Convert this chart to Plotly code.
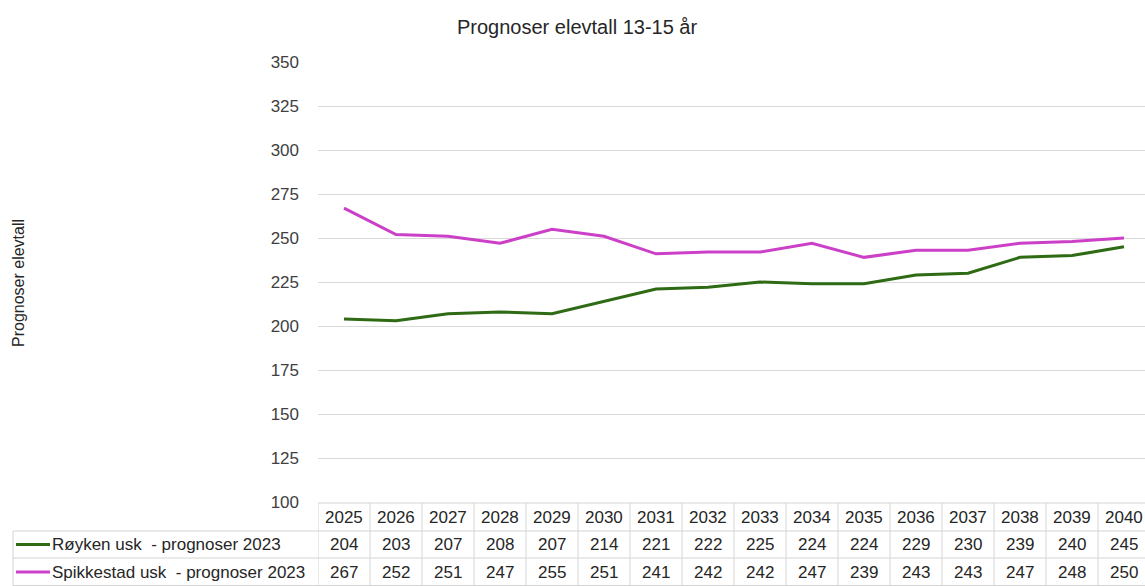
import plotly.graph_objects as go

# Prognosis data: pupils aged 13-15
years = [2025, 2026, 2027, 2028, 2029, 2030, 2031, 2032, 2033, 2034,
         2035, 2036, 2037, 2038, 2039, 2040]
royken = [204, 203, 207, 208, 207, 214, 221, 222, 225, 224,
          224, 229, 230, 239, 240, 245]
spikkestad = [267, 252, 251, 247, 255, 251, 241, 242, 242, 247,
              239, 243, 243, 247, 248, 250]
series_names = ["Røyken usk  - prognoser 2023", "Spikkestad usk  - prognoser 2023"]
y_ticks = [100, 125, 150, 175, 200, 225, 250, 275, 300, 325, 350]

GREEN = "#2E6B14"
PINK = "#CC40C8"
GRID = "#D9D9D9"
TEXT = "#262626"

W, H = 1145, 586
ML, MT, MB = 318, 62, 84
plot_h = H - MT - MB

def py(pix):
    """Pixel row -> paper y."""
    return (H - MB - pix) / plot_h

def px(pix):
    """Pixel column -> paper x."""
    return (pix - ML) / (W - ML)

idx = list(range(len(years)))
fig = go.Figure()
for vals, name, col in [(royken, series_names[0], GREEN),
                        (spikkestad, series_names[1], PINK)]:
    fig.add_trace(go.Scatter(x=idx, y=vals, mode="lines", name=name,
                             line=dict(color=col, width=3), showlegend=False))

shapes = []
annotations = []
line_style = dict(color="#D4D4D4", width=1)

# Data table below the plot: horizontal borders
shapes.append(dict(type="line", xref="paper", yref="paper", x0=0, x1=1.2,
                   y0=py(503), y1=py(503), line=line_style))
for yy in [531, 558, 585.5]:
    shapes.append(dict(type="line", xref="paper", yref="paper", x0=px(13), x1=1.2,
                       y0=py(yy), y1=py(yy), line=line_style))
# vertical borders
shapes.append(dict(type="line", xref="paper", yref="paper", x0=px(13), x1=px(13),
                   y0=py(531), y1=py(586), line=line_style))
for i in range(len(years) + 1):
    shapes.append(dict(type="line", xref="x", yref="paper", x0=i - 0.5, x1=i - 0.5,
                       y0=py(503), y1=py(586), line=line_style))

cell_font = dict(family="Liberation Sans, Arial, sans-serif", size=17, color=TEXT)

def cell(x, y, text, xref="x", xanchor="center"):
    annotations.append(dict(x=x, y=y, xref=xref, yref="paper", text=text,
                            xanchor=xanchor, yanchor="middle", showarrow=False,
                            font=cell_font))

for i, yr in enumerate(years):
    cell(i, py(517), str(yr))
    cell(i, py(544.5), str(royken[i]))
    cell(i, py(572), str(spikkestad[i]))

# legend keys inside the table
for name, col, yc in [(series_names[0], GREEN, 544.5), (series_names[1], PINK, 572)]:
    shapes.append(dict(type="line", xref="paper", yref="paper", x0=px(16), x1=px(50),
                       y0=py(yc), y1=py(yc), line=dict(color=col, width=3)))
    cell(px(50), py(yc), name, xref="paper", xanchor="left")

# chart title and axis title
annotations.append(dict(x=px(577), y=py(27), xref="paper", yref="paper",
                        xanchor="center", yanchor="middle",
                        text="Prognoser elevtall 13-15 år", showarrow=False,
                        font=dict(family="Liberation Sans Narrow, Arial Narrow, sans-serif",
                                  size=20, color=TEXT)))
annotations.append(dict(x=px(18), y=py(283), xref="paper", yref="paper",
                        xanchor="center", yanchor="middle",
                        text="Prognoser elevtall", textangle=-90, showarrow=False,
                        font=dict(family="Liberation Sans, Arial, sans-serif",
                                  size=16, color=TEXT)))

fig.update_layout(
    width=W, height=H,
    margin=dict(l=ML, r=0, t=MT, b=MB, pad=0),
    plot_bgcolor="white", paper_bgcolor="white",
    shapes=shapes, annotations=annotations,
    xaxis=dict(range=[-0.5, -0.5 + (W - ML) / 52.0], showticklabels=False,
               showgrid=False, zeroline=False, showline=False, ticks=""),
    yaxis=dict(range=[100, 350], tickvals=y_ticks, showgrid=True, gridcolor=GRID,
               gridwidth=1, zeroline=False, showline=False, ticks="",
               ticklabelstandoff=18,
               tickfont=dict(family="Liberation Sans, Arial, sans-serif",
                             size=17, color="#404040")),
)

fig.write_html("out.html")
